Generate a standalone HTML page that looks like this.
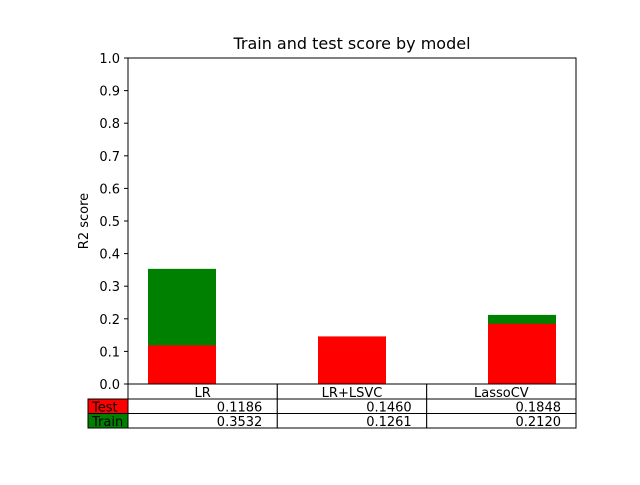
<!DOCTYPE html>
<html><head><meta charset="utf-8"><style>
body{margin:0;background:#fff}
svg text{font-family:"DejaVu Sans","Liberation Sans",sans-serif;font-size:13px;fill:#000}
</style></head><body>
<svg id="chart" width="640" height="480" xmlns="http://www.w3.org/2000/svg">
<rect width="640" height="480" fill="#fff"/>
<text x="352" y="49" text-anchor="middle" font-size="16" style="font-size:16px">Train and test score by model</text>
<text transform="translate(88,221) rotate(-90)" text-anchor="middle">R2 score</text>
<g id="yticks"></g>
<g id="bars"></g>
<rect x="128" y="58" width="448" height="326" fill="none" stroke="#000" stroke-width="1"/>
<g id="table"></g>
</svg>
<script>
const categories=["LR","LR+LSVC","LassoCV"];
const testScores=[0.1186,0.1460,0.1848];
const trainScores=[0.3532,0.1261,0.2120];
const yTicks=[0,0.1,0.2,0.3,0.4,0.5,0.6,0.7,0.8,0.9,1.0];
const NS="http://www.w3.org/2000/svg";
function y(v){return 384-v*326;}
function xc(i){return 182+170*i;}
function mk(t,a,p){const e=document.createElementNS(NS,t);for(const k in a)e.setAttribute(k,a[k]);p.appendChild(e);return e;}
const yt=document.getElementById('yticks');
yTicks.forEach(v=>{
 const l=mk('line',{x1:124,x2:128,y1:y(v),y2:y(v),stroke:'#000'},yt);
 
 
 const t=mk('text',{x:120,y:y(v)+5,'text-anchor':'end'},yt);t.textContent=v.toFixed(1);
 
 
});
const bg=document.getElementById('bars');
categories.forEach((c,i)=>{
 const g=mk('rect',{x:xc(i)-34,width:68,y:y(trainScores[i]),height:384-y(trainScores[i]),fill:'#008000'},bg);
 
 
 const r=mk('rect',{x:xc(i)-34,width:68,y:y(testScores[i]),height:384-y(testScores[i]),fill:'#ff0000'},bg);
 
 
});
const tb=document.getElementById('table');
const colX=[128,277.3,426.7,576];
const rowY=[384,399,413.5,428];
categories.forEach((c,i)=>{
 const h=mk('rect',{x:colX[i],y:rowY[0],width:colX[i+1]-colX[i],height:rowY[1]-rowY[0],fill:'#fff',stroke:'#000'},tb);
 
 
 const ht=mk('text',{x:(colX[i]+colX[i+1])/2,y:rowY[1]-2,'text-anchor':'middle'},tb);ht.textContent=c;
 
 
});
[["Test",testScores,"#ff0000"],["Train",trainScores,"#008000"]].forEach((row,r)=>{
 const y0=rowY[r+1],y1=rowY[r+2];
 const lc=mk('rect',{x:88,y:y0,width:40,height:y1-y0,fill:row[2],stroke:'#000'},tb);
 
 
 const lt=mk('text',{x:92,y:y1-2},tb);lt.textContent=row[0];
 
 
 row[1].forEach((v,i)=>{
  const cc=mk('rect',{x:colX[i],y:y0,width:colX[i+1]-colX[i],height:y1-y0,fill:'#fff',stroke:'#000'},tb);
  
  
  const ct=mk('text',{x:colX[i+1]-15,y:y1-2,'text-anchor':'end'},tb);ct.textContent=v.toFixed(4);
  
  
 });
});
</script>
</body></html>
